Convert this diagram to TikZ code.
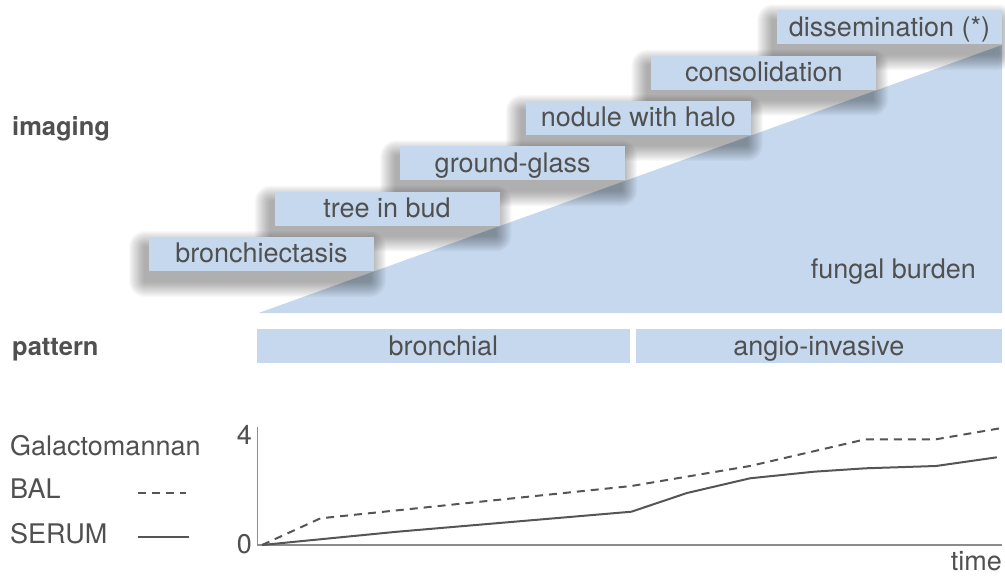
\documentclass[tikz,border=0pt]{standalone}
\usepackage{fontspec}
\setmainfont{TeX Gyre Heros}
\definecolor{boxblue}{RGB}{198,216,238}
\definecolor{txtgray}{RGB}{80,80,80}
\definecolor{linegray}{RGB}{85,85,85}
\definecolor{axisgray}{RGB}{140,140,140}
\newcommand\fsreg{\fontsize{27}{32}\selectfont}
\newcommand\fsbold{\fontsize{25.5}{30}\selectfont\bfseries}
\newcommand\softshadow[2]{%
  \foreach \r in {1,...,16} {
    \fill[black, opacity=0.024, rounded corners=\r pt]
      ({#1-112.5-4-\r},{#2-17+10-\r}) rectangle ({#1+112.5-4+\r},{#2+17+10+\r});
  }}
\tikzset{
  stepbox/.style={fill=boxblue, minimum width=225pt, minimum height=34pt, inner sep=0pt,
    text height=20pt, text depth=2.5pt, font=\fsreg, text=txtgray},
  patbox/.style={fill=boxblue, minimum height=34pt, inner sep=0pt,
    text height=20pt, text depth=2.5pt, font=\fsreg, text=txtgray},
  plain/.style={inner sep=0pt, font=\fsreg, text=txtgray},
  rowlabel/.style={inner sep=0pt, font=\fsbold, text=txtgray},
  axis/.style={draw=axisgray, line width=1.4pt},
  serum/.style={draw=linegray, line width=2pt, line join=round},
  bal/.style={draw=linegray, line width=2pt, dash pattern=on 8pt off 6pt, line join=round}
}
\begin{document}
\begin{tikzpicture}[x=1pt,y=-1pt]
\useasboundingbox (0,0) rectangle (1005,576);
% fungal burden triangle
\coordinate (tA) at (258.6,313);
\coordinate (tB) at (1002,313);
\coordinate (tC) at (1002,45);
\fill[boxblue] (tA) -- (tB) -- (tC) -- cycle;
\node[plain, anchor=base east] (burden) at (976,278) {fungal burden};
% shadows of the imaging steps
\softshadow{261.5}{254}
\softshadow{387.1}{208.65}
\softshadow{512.7}{163.3}
\softshadow{638.3}{117.95}
\softshadow{763.9}{72.6}
\softshadow{889.5}{27.25}
% imaging steps
\node[stepbox] (s1) at (261.5,254) {bronchiectasis};
\node[stepbox] (s2) at (387.1,208.65) {tree in bud};
\node[stepbox] (s3) at (512.7,163.3) {ground-glass};
\node[stepbox] (s4) at (638.3,117.95) {nodule with halo};
\node[stepbox] (s5) at (763.9,72.6) {consolidation};
\node[stepbox] (s6) at (889.5,27.25) {dissemination (*)};
% row labels
\node[rowlabel, anchor=base west] (imaging) at (12,135) {imaging};
\node[rowlabel, anchor=base west] (pattern) at (12,355) {pattern};
% pattern boxes
\node[patbox, minimum width=373.3pt] (bron) at (443.4,346.3) {bronchial};
\node[patbox, minimum width=365.7pt] (angio) at (818.9,346.3) {angio-invasive};
% legend
\node[plain, anchor=base west] (gm) at (10,455) {Galactomannan};
\node[plain, anchor=base west] (ballab) at (10,498) {BAL};
\node[plain, anchor=base west] (serlab) at (10,543) {SERUM};
\coordinate (lb1) at (138,493); \coordinate (lb2) at (186,493);
\coordinate (ls1) at (138,537); \coordinate (ls2) at (189,537);
\draw[bal] (lb1) -- (lb2);
\draw[serum] (ls1) -- (ls2);
% axes
\coordinate (ytop) at (257.5,427);
\coordinate (orig) at (257.5,545);
\coordinate (xend) at (1002,545);
\draw[axis] (ytop) -- (orig) -- (xend);
\node[plain, anchor=base east] (four) at (252,444) {4};
\node[plain, anchor=base east] (zero) at (252,553.5) {0};
\node[plain, anchor=base east] (time) at (1002,570) {time};
% data
\draw[bal] (262,545) -- (320.5,518.3) -- (631.4,486) -- (750,466) -- (865.4,439.3) -- (935.9,439.3) -- (1000,428.3);
\draw[serum] (262,545) -- (397.4,531.7) -- (631.4,511.7) -- (687,493) -- (750,478.3) -- (814,471.7) -- (865.4,468.3) -- (935.9,466) -- (996.8,457.3);
\end{tikzpicture}
\end{document}
